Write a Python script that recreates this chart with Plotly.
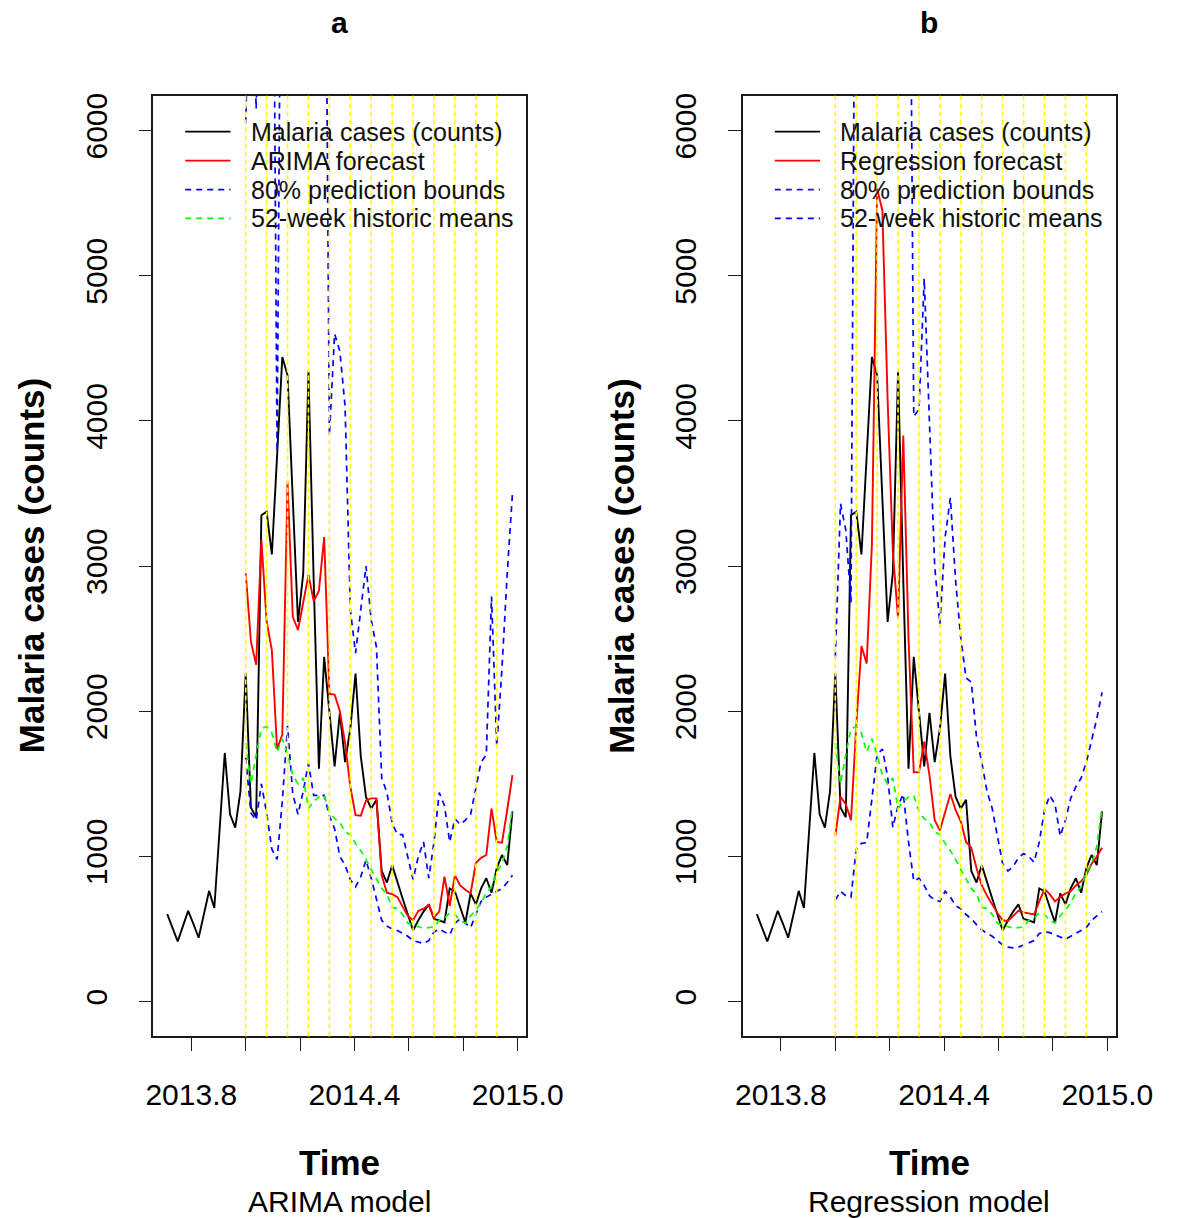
import plotly.graph_objects as go

# ---------------- data (weekly, frequency 52, starting 2013 week 38) ----------------
start_year = 2013
start_week = 38
freq = 52
forecast_start = 15          # index of 2014 week 1 in the series

cases = [603, 510, 415, 520, 625, 535, 440, 600, 763, 645,
         1180, 1713, 1290, 1198, 1450, 2263, 1336, 1270, 3350, 3375,
         3080, 3760, 4440, 4314, 3470, 2615, 2950, 4340, 2900, 1605,
         2375, 2000, 1620, 1990, 1650, 1880, 2260, 1690, 1410, 1330,
         1390, 900, 820, 940, 820, 710, 600, 490, 560, 620,
         670, 570, 560, 545, 780, 760, 650, 545, 745, 670,
         780, 850, 750, 920, 1010, 940, 1310]

arima_fc = [2950, 2480, 2320, 3180, 2620, 2420, 1740, 1840, 3580, 2650,
            2560, 2750, 2940, 2760, 2830, 3200, 2120, 2115, 2000, 1780,
            1480, 1285, 1280, 1385, 1400, 1400, 870, 750, 740, 720,
            660, 590, 560, 625, 640, 665, 580, 620, 860, 660,
            870, 800, 770, 745, 955, 990, 1010, 1330, 1100, 1095,
            1320, 1560]
arima_lo = [1680, 1300, 1250, 1500, 1300, 1050, 980, 1380, 1900, 1430,
            1290, 1450, 1640, 1420, 1420, 1420, 1280, 1190, 1000, 940,
            840, 790, 860, 975, 850, 700, 560, 520, 500, 490,
            470, 450, 420, 410, 400, 420, 480, 500, 480, 460,
            540, 570, 540, 510, 600, 690, 720, 740, 760, 780,
            820, 870]
arima_hi = [6050, 7500, 6150, 8000, 9000, 9000, 3790, 9000, 9000, 9000,
            9000, 9000, 9000, 9000, 9000, 9000, 3900, 4600, 4480, 4100,
            2700, 2400, 2700, 3000, 2630, 2440, 1540, 1440, 1230, 1150,
            1150, 1000, 840, 1000, 1100, 850, 1100, 1440, 1350, 1100,
            1260, 1220, 1250, 1290, 1480, 1650, 1700, 2790, 1760, 2300,
            2950, 3500]

reg_fc = [1140, 1410, 1360, 1250, 1900, 2450, 2330, 3150, 5600, 5450,
          4150, 3100, 2640, 3900, 2500, 1580, 1580, 1790, 1560, 1250,
          1180, 1305, 1430, 1320, 1240, 1100, 1060, 920, 800, 730,
          670, 610, 560, 555, 590, 625, 615, 610, 600, 690,
          775, 740, 690, 720, 745, 760, 800, 830, 870, 950,
          1000, 1060]
reg_lo = [700, 760, 730, 720, 1050, 1090, 1095, 1400, 1700, 1740,
          1550, 1200, 1350, 1430, 1100, 830, 850, 800, 730, 700,
          690, 760, 720, 660, 640, 600, 570, 530, 495, 470,
          450, 420, 390, 375, 370, 375, 390, 400, 420, 470,
          480, 475, 460, 440, 430, 450, 470, 490, 510, 560,
          590, 620]
reg_hi = [2370, 3430, 3250, 2750, 9000, 9000, 9000, 9000, 9000, 9000,
          9000, 9000, 9000, 9000, 9000, 4030, 4080, 4980, 4000, 3000,
          2600, 3200, 3470, 2900, 2500, 2230, 2200, 1820, 1650, 1450,
          1330, 1150, 950, 900, 930, 990, 1020, 1000, 960, 1100,
          1320, 1420, 1360, 1140, 1250, 1400, 1480, 1540, 1650, 1800,
          1950, 2130]

hist_mean = [1780, 1500, 1700, 1880, 1895, 1850, 1720, 1810, 1700, 1560,
             1500, 1540, 1330, 1380, 1410, 1420, 1310, 1260, 1235, 1170,
             1150, 1090, 1040, 980, 910, 850, 780, 740, 650, 640,
             600, 540, 530, 515, 505, 510, 515, 560, 575, 610,
             600, 560, 540, 590, 630, 680, 750, 790, 890, 950,
             1070, 1340]

marker_weeks_2014 = [1, 5, 9, 13, 17, 21, 25, 29, 33, 37, 41, 45, 49]

y_ticks = [0, 1000, 2000, 3000, 4000, 5000, 6000]
x_ticks = [2013.8, 2014.0, 2014.2, 2014.4, 2014.6, 2014.8, 2015.0]
x_tick_text = ["2013.8", "", "", "2014.4", "", "", "2015.0"]
y_limits = [0, 6000]

panel_titles = ["a", "b"]
panel_subtitles = ["ARIMA model", "Regression model"]
legend_labels = [
    ["Malaria cases (counts)", "ARIMA forecast", "80% prediction bounds", "52-week historic means"],
    ["Malaria cases (counts)", "Regression forecast", "80% prediction bounds", "52-week historic means"],
]

# ---------------- derived time axes ----------------
times = [start_year + (start_week - 1 + k) / freq for k in range(len(cases))]
fc_times = times[forecast_start:]
marker_times = [2014 + (w - 1) / freq for w in marker_weeks_2014]
pad_x = 0.04 * (times[-1] - times[0])
x_range = [times[0] - pad_x, times[-1] + pad_x]
pad_y = 0.04 * (y_limits[1] - y_limits[0])
y_range = [y_limits[0] - pad_y, y_limits[1] + pad_y]

W, H = 1202, 1218
FONT = "Liberation Sans, Arial, sans-serif"
BLACK, RED, BLUE, GREEN, YELLOW = "#000000", "#ff0000", "#0000ff", "#00ff00", "#ffff00"

def px(xp):
    return xp / W

def py(yp):
    return 1 - yp / H

panels = [
    dict(left=152, right=539, fc=arima_fc, lo=arima_lo, hi=arima_hi,
         leg_colors=[BLACK, RED, BLUE, GREEN]),
    dict(left=764, right=1151, fc=reg_fc, lo=reg_lo, hi=reg_hi,
         leg_colors=[BLACK, RED, "#1c1caa", BLUE]),
]
plot_top, plot_bottom = 93, 1036

fig = go.Figure()
shapes = []
annotations = []

for n, p in enumerate(panels):
    xa = "x" if n == 0 else "x2"
    ya = "y" if n == 0 else "y2"
    fig.add_trace(go.Scatter(x=times, y=cases, mode="lines", xaxis=xa, yaxis=ya,
                             line=dict(color=BLACK, width=1.9), showlegend=False,
                             name="Malaria cases (counts)"))
    fig.add_trace(go.Scatter(x=fc_times, y=p["fc"], mode="lines", xaxis=xa, yaxis=ya,
                             line=dict(color=RED, width=1.9), showlegend=False,
                             name=legend_labels[n][1]))
    fig.add_trace(go.Scatter(x=fc_times, y=p["hi"], mode="lines", xaxis=xa, yaxis=ya,
                             line=dict(color=BLUE, width=1.7, dash="6px,5px"), showlegend=False,
                             name="upper bound"))
    fig.add_trace(go.Scatter(x=fc_times, y=p["lo"], mode="lines", xaxis=xa, yaxis=ya,
                             line=dict(color=BLUE, width=1.7, dash="6px,5px"), showlegend=False,
                             name="lower bound"))
    fig.add_trace(go.Scatter(x=fc_times, y=hist_mean, mode="lines", xaxis=xa, yaxis=ya,
                             line=dict(color=GREEN, width=1.7, dash="6px,5px"), showlegend=False,
                             name="52-week historic means"))

    # yellow dashed month markers
    for t in marker_times:
        shapes.append(dict(type="line", xref=xa, yref=ya + " domain", x0=t, x1=t, y0=0, y1=1,
                           line=dict(color=YELLOW, width=1.6, dash="5px,3px"), layer="above"))

    # manual legend (no box)
    cx = (p["left"] + p["right"]) / 2
    for k in range(4):
        yy = 129 + 29 * k
        dash = None if k < 2 else "6px,5px"
        shapes.append(dict(type="line", xref="paper", yref="paper",
                           x0=px(p["left"] + 33), x1=px(p["left"] + 80), y0=py(yy), y1=py(yy),
                           line=dict(color=p["leg_colors"][k], width=1.8, dash=dash)))
        annotations.append(dict(text=legend_labels[n][k], xref="paper", yref="paper",
                                x=px(p["left"] + 99), y=py(yy), xanchor="left", yanchor="middle",
                                showarrow=False, font=dict(family=FONT, size=25, color="#111")))

    annotations.append(dict(text="<b>%s</b>" % panel_titles[n], xref="paper", yref="paper",
                            x=px(cx), y=py(20), xanchor="center", yanchor="middle",
                            showarrow=False, font=dict(family=FONT, size=30, color=BLACK)))
    annotations.append(dict(text="<b>Time</b>", xref="paper", yref="paper",
                            x=px(cx), y=py(1162), xanchor="center", yanchor="middle",
                            showarrow=False, font=dict(family=FONT, size=35, color=BLACK)))
    annotations.append(dict(text=panel_subtitles[n], xref="paper", yref="paper",
                            x=px(cx), y=py(1201), xanchor="center", yanchor="middle",
                            showarrow=False, font=dict(family=FONT, size=30, color=BLACK)))
    annotations.append(dict(text="<b>Malaria cases (counts)</b>", xref="paper", yref="paper",
                            x=px(p["left"] - 127), y=py((plot_top + plot_bottom) / 2),
                            xanchor="center", yanchor="middle", textangle=-90,
                            showarrow=False, font=dict(family=FONT, size=35, color=BLACK)))

axis_common = dict(showgrid=False, zeroline=False, showline=True, mirror=True,
                   linecolor="#1a1a1a", linewidth=1.6, ticks="outside", ticklen=13,
                   tickwidth=1.4, tickcolor="#1a1a1a",
                   tickfont=dict(family=FONT, size=30, color=BLACK))

layout_axes = {}
for n, p in enumerate(panels):
    sx = "xaxis" if n == 0 else "xaxis2"
    sy = "yaxis" if n == 0 else "yaxis2"
    layout_axes[sx] = dict(axis_common, domain=[px(p["left"]), px(p["right"])], range=x_range,
                           anchor="y" if n == 0 else "y2", tickmode="array", tickvals=x_ticks,
                           ticktext=x_tick_text, ticklabelstandoff=18)
    layout_axes[sy] = dict(axis_common, domain=[py(plot_bottom), py(plot_top)], range=y_range,
                           anchor="x" if n == 0 else "x2", tickmode="array", tickvals=y_ticks,
                           ticktext=[str(v) for v in y_ticks], tickangle=-90,
                           ticklabelstandoff=20)

fig.update_layout(width=W, height=H, autosize=False, margin=dict(l=0, r=0, t=0, b=0, pad=0),
                  paper_bgcolor="white", plot_bgcolor="white", showlegend=False,
                  shapes=shapes, annotations=annotations, **layout_axes)

fig.write_html("out.html", config={"responsive": False},
               default_width="1202px", default_height="1218px",
               post_script="document.body.style.margin='0';document.body.style.overflow='hidden';")
